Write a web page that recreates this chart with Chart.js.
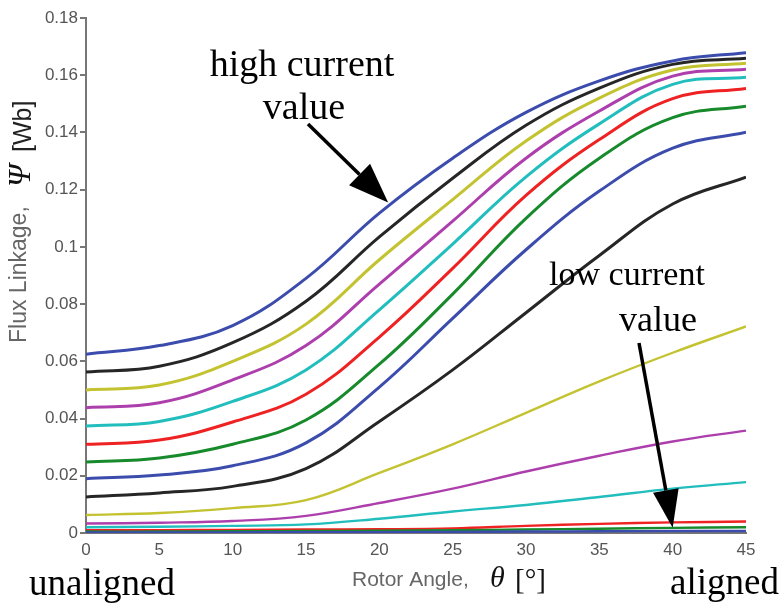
<!DOCTYPE html>
<html>
<head>
<meta charset="utf-8">
<script src="https://cdn.jsdelivr.net/npm/chart.js@4.4.1/dist/chart.umd.min.js"></script>
<style>
  html, body { margin: 0; padding: 0; background: #fff; }
  #wrap { width: 783px; height: 605px; }
</style>
</head>
<body>
<div id="wrap"><canvas id="fluxChart" width="783" height="605"></canvas></div>
<script>
// rotor angle samples (deg)
const angles = [0, 5, 10, 15, 20, 25, 30, 35, 40, 45];

// flux linkage (Wb), lowest phase current first
const psiI1  = [0.0002, 0.0002, 0.0002, 0.0003, 0.0003, 0.0004, 0.0005, 0.0006, 0.0007, 0.0007];
const psiI2  = [0.0005, 0.0005, 0.0006, 0.0007, 0.0008, 0.0010, 0.0012, 0.0015, 0.0018, 0.0020];
const psiI3  = [0.0010, 0.0010, 0.0011, 0.0012, 0.0013, 0.0016, 0.0025, 0.0032, 0.0037, 0.0040];
const psiI4  = [0.0020, 0.0022, 0.0025, 0.0030, 0.0050, 0.0075, 0.0098, 0.0126, 0.0155, 0.0178];
const psiI5  = [0.0033, 0.0036, 0.0042, 0.0060, 0.0105, 0.0155, 0.0215, 0.0270, 0.0320, 0.0358];
const psiI6  = [0.0063, 0.0070, 0.0087, 0.0115, 0.0210, 0.0310, 0.0420, 0.0530, 0.0630, 0.0722];
const psiI7  = [0.0126, 0.0140, 0.0163, 0.0225, 0.0390, 0.0570, 0.0770, 0.0970, 0.1150, 0.1244];
const psiI8  = [0.0190, 0.0203, 0.0235, 0.0315, 0.0510, 0.0750, 0.0990, 0.1195, 0.1345, 0.1401];
const psiI9  = [0.0248, 0.0262, 0.0310, 0.0395, 0.0590, 0.0835, 0.1100, 0.1310, 0.1452, 0.1492];
const psiI10 = [0.0310, 0.0325, 0.0388, 0.0485, 0.0685, 0.0925, 0.1180, 0.1375, 0.1518, 0.1554];
const psiI11 = [0.0374, 0.0390, 0.0460, 0.0570, 0.0780, 0.1010, 0.1245, 0.1430, 0.1568, 0.1593];
const psiI12 = [0.0438, 0.0455, 0.0535, 0.0655, 0.0870, 0.1090, 0.1310, 0.1475, 0.1597, 0.1621];
const psiI13 = [0.0500, 0.0517, 0.0600, 0.0730, 0.0955, 0.1165, 0.1370, 0.1520, 0.1618, 0.1642];
const psiI14 = [0.0563, 0.0583, 0.0665, 0.0810, 0.1035, 0.1240, 0.1425, 0.1555, 0.1638, 0.1659];
const psiI15 = [0.0625, 0.0655, 0.0725, 0.0890, 0.1118, 0.1310, 0.1470, 0.1580, 0.1650, 0.1679];

const fluxSeries = [psiI1, psiI2, psiI3, psiI4, psiI5, psiI6, psiI7, psiI8,
                    psiI9, psiI10, psiI11, psiI12, psiI13, psiI14, psiI15];

// matlab-style colour cycle: b g r c m y k
const lineColors = ['#3b4cad', '#178a2c', '#ee2222', '#22bdbd', '#ad3fad', '#c3c331', '#262626'];

const yTickValues = [0, 0.02, 0.04, 0.06, 0.08, 0.1, 0.12, 0.14, 0.16, 0.18];
const yTickLabels = ['0', '0.02', '0.04', '0.06', '0.08', '0.1', '0.12', '0.14', '0.16', '0.18'];
const xTickValues = [0, 5, 10, 15, 20, 25, 30, 35, 40, 45];

const sansFont = '"Liberation Sans", Arial, sans-serif';
const serifFont = '"Liberation Serif", "Times New Roman", serif';

function drawArrow(ctx, x0, y0, x1, y1, headLen, headHalf, lw) {
  const ang = Math.atan2(y1 - y0, x1 - x0);
  const bx = x1 - headLen * Math.cos(ang);
  const by = y1 - headLen * Math.sin(ang);
  ctx.save();
  ctx.strokeStyle = '#000';
  ctx.fillStyle = '#000';
  ctx.lineWidth = lw;
  ctx.beginPath();
  ctx.moveTo(x0, y0);
  ctx.lineTo(bx, by);
  ctx.stroke();
  ctx.beginPath();
  ctx.moveTo(x1, y1);
  ctx.lineTo(bx + headHalf * Math.sin(ang), by - headHalf * Math.cos(ang));
  ctx.lineTo(bx - headHalf * Math.sin(ang), by + headHalf * Math.cos(ang));
  ctx.closePath();
  ctx.fill();
  ctx.restore();
}

// axis titles, notes and arrows
const notesPlugin = {
  id: 'notes',
  afterDraw(chart) {
    const ctx = chart.ctx;
    const xs = chart.scales.x;
    const ys = chart.scales.y;

    ctx.save();
    ctx.textBaseline = 'alphabetic';
    ctx.textAlign = 'left';

    // y axis title, rotated
    ctx.save();
    ctx.translate(26, 343);
    ctx.rotate(-Math.PI / 2);
    ctx.font = '23px ' + sansFont;
    ctx.fillStyle = '#666';
    ctx.fillText('Flux Linkage,', 0, 0);
    ctx.font = 'italic 32px ' + serifFont;
    ctx.fillStyle = '#111';
    ctx.fillText('Ψ', 156, 4);
    ctx.font = '25px ' + sansFont;
    ctx.fillStyle = '#222';
    ctx.fillText('[Wb]', 191, 5);
    ctx.restore();

    // x axis title
    ctx.font = '21px ' + sansFont;
    ctx.fillStyle = '#666';
    ctx.fillText('Rotor Angle,', 352, 586);
    ctx.font = 'italic 30px ' + serifFont;
    ctx.fillStyle = '#111';
    ctx.fillText('θ', 490, 587);
    ctx.font = '29px ' + serifFont;
    ctx.fillText('[°]', 515, 589);

    // position labels under the axis
    ctx.font = '37px ' + serifFont;
    ctx.fillStyle = '#000';
    ctx.fillText('unaligned', 29, 595);
    ctx.textAlign = 'right';
    ctx.fillText('aligned', 779, 594);

    // current notes
    ctx.textAlign = 'center';
    ctx.font = '38px ' + serifFont;
    ctx.fillText('high current', 302, 76);
    ctx.fillText('value', 304, 119);
    ctx.font = '34px ' + serifFont;
    ctx.fillText('low current', 627, 285);
    ctx.font = '36px ' + serifFont;
    ctx.fillText('value', 658, 331);
    ctx.restore();

    drawArrow(ctx, 308, 124, xs.getPixelForValue(20.6), ys.getPixelForValue(0.1155), 40, 15, 3.5);
    drawArrow(ctx, 639, 343, xs.getPixelForValue(40), ys.getPixelForValue(0.0018), 38, 13, 3.5);
  }
};

const datasets = fluxSeries.map((vals, i) => ({
  label: 'I' + (i + 1),
  data: angles.map((a, k) => ({ x: a, y: vals[k] })),
  borderColor: lineColors[i % lineColors.length],
  borderWidth: i < 6 ? 2.4 : 3,
  pointRadius: 0,
  fill: false,
  tension: 0.4
}));

new Chart(document.getElementById('fluxChart'), {
  type: 'line',
  data: { datasets },
  options: {
    responsive: false,
    animation: false,
    layout: { padding: { left: 0, top: 18, right: 37, bottom: 0 } },
    plugins: {
      legend: { display: false },
      tooltip: { enabled: false }
    },
    scales: {
      x: {
        type: 'linear',
        min: 0,
        max: 45,
        afterBuildTicks: s => { s.ticks = xTickValues.map(v => ({ value: v })); },
        afterFit: s => { s.height = 72; },
        ticks: {
          color: '#555',
          font: { family: sansFont, size: 17 },
          padding: 7,
          maxRotation: 0
        },
        grid: { drawOnChartArea: false, drawTicks: false },
        border: { display: true, color: '#777', width: 2 }
      },
      y: {
        min: 0,
        max: 0.18,
        afterBuildTicks: s => { s.ticks = yTickValues.map(v => ({ value: v })); },
        afterFit: s => { s.width = 86; },
        ticks: {
          color: '#555',
          font: { family: sansFont, size: 17 },
          padding: 2,
          callback: (v, idx) => yTickLabels[idx]
        },
        grid: { drawOnChartArea: false, drawTicks: true, tickLength: 6, color: '#777', lineWidth: 2 },
        border: { display: true, color: '#777', width: 2 }
      }
    }
  },
  plugins: [notesPlugin]
});
</script>
</body>
</html>
